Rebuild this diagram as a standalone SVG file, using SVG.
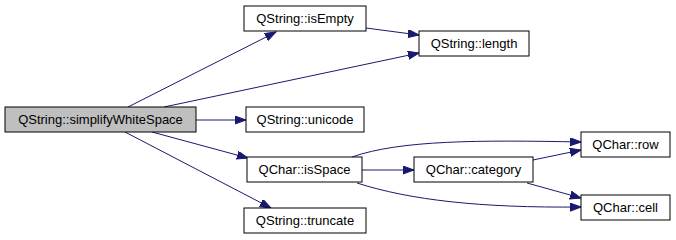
<svg xmlns="http://www.w3.org/2000/svg" width="676" height="240" viewBox="0 0 676 240">
  <style>
    .node rect { fill: #ffffff; stroke: #000000; stroke-width: 1; }
    .node.root rect { fill: #bfbfbf; }
    .node text { font-family: "Liberation Sans", Arial, sans-serif; font-size: 13px; fill: #000000; text-anchor: middle; }
    .edge { fill: none; stroke: #191970; stroke-width: 1; }
  </style>
  <defs>
    <marker id="arrow" markerUnits="userSpaceOnUse" markerWidth="12" markerHeight="9" refX="11" refY="4" orient="auto">
      <path d="M0,0 L11,4 L0,8 z" fill="#191970" stroke="#191970" stroke-width="1"/>
    </marker>
  </defs>
  <rect width="676" height="240" fill="#ffffff"/>

  <g id="edges">
    <path class="edge" d="M128,107 L276,32" marker-end="url(#arrow)"/>
    <path class="edge" d="M164,107 L419,53" marker-end="url(#arrow)"/>
    <path class="edge" d="M366,28 L419,35" marker-end="url(#arrow)"/>
    <path class="edge" d="M196,120 L246,120" marker-end="url(#arrow)"/>
    <path class="edge" d="M152,132 L248,158" marker-end="url(#arrow)"/>
    <path class="edge" d="M125,132 L271,208" marker-end="url(#arrow)"/>
    <path class="edge" d="M352,157 C400,140 480,140 581,142" marker-end="url(#arrow)"/>
    <path class="edge" d="M362,170 L414,170" marker-end="url(#arrow)"/>
    <path class="edge" d="M357,183 C410,200 480,208 581,207" marker-end="url(#arrow)"/>
    <path class="edge" d="M533,160 L581,150" marker-end="url(#arrow)"/>
    <path class="edge" d="M527,183 L581,198" marker-end="url(#arrow)"/>
  </g>

  <g id="simplifyWhiteSpace" class="node root">
    <rect x="5" y="107" width="191" height="25"/>
    <text x="100.5" y="124">QString::simplifyWhiteSpace</text>
  </g>
  <g id="isEmpty" class="node">
    <rect x="244" y="6" width="122" height="25"/>
    <text x="305" y="23">QString::isEmpty</text>
  </g>
  <g id="length" class="node">
    <rect x="419" y="31" width="110" height="25"/>
    <text x="474" y="48">QString::length</text>
  </g>
  <g id="unicode" class="node">
    <rect x="246" y="107" width="118" height="25"/>
    <text x="305" y="124">QString::unicode</text>
  </g>
  <g id="isSpace" class="node">
    <rect x="247" y="157" width="115" height="25"/>
    <text x="304.5" y="174">QChar::isSpace</text>
  </g>
  <g id="truncate" class="node">
    <rect x="244" y="208" width="122" height="25"/>
    <text x="305" y="225">QString::truncate</text>
  </g>
  <g id="category" class="node">
    <rect x="414" y="157" width="119" height="25"/>
    <text x="473.5" y="174">QChar::category</text>
  </g>
  <g id="row" class="node">
    <rect x="581" y="132" width="89" height="25"/>
    <text x="625.5" y="149">QChar::row</text>
  </g>
  <g id="cell" class="node">
    <rect x="581" y="195" width="89" height="25"/>
    <text x="625.5" y="212">QChar::cell</text>
  </g>
</svg>
